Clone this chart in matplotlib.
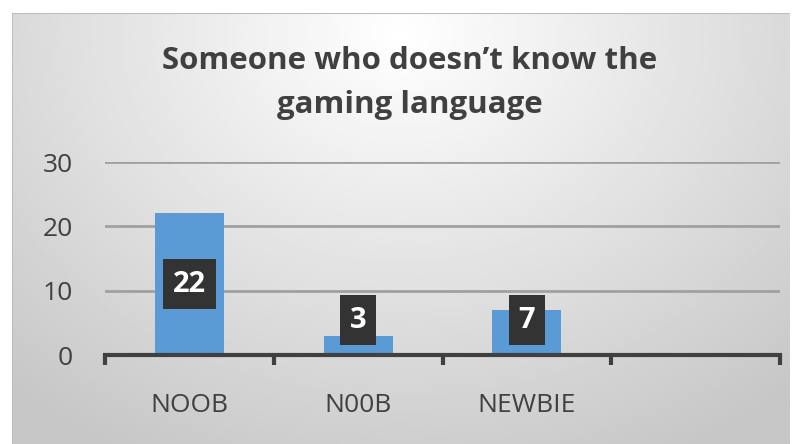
import numpy as np
import matplotlib.pyplot as plt
from matplotlib.path import Path

# -----------------------------
# chart data
# -----------------------------

categories = ["NOOB", "N00B", "NEWBIE", ""]
values = [22, 3, 7, None]
label_y = [11.0, 5.4, 5.4]      # where the data labels sit
y_ticks = [0, 10, 20, 30]
title = "Someone who doesn\u2019t know the\ngaming language"

plt.rcParams["font.family"] = ["Open Sans", "DejaVu Sans"]


def tall_box(x0, y0, width, height, mutation_size):
    # square label box, with more padding above and below than at the sides
    px = 0.33 * mutation_size
    py = 0.36 * mutation_size
    x0, x1 = x0 - px, x0 + width + px
    y0, y1 = y0 - py, y0 + height + py
    return Path([(x0, y0), (x1, y0), (x1, y1), (x0, y1), (x0, y0)], closed=True)


fig = plt.figure(figsize=(7.95, 4.44), dpi=100)

# -----------------------------
# gradient background panel
# -----------------------------

bg = fig.add_axes([12 / 795, 0, 778 / 795, 431 / 444])
gx, gy = np.meshgrid(np.linspace(0, 1, 400), np.linspace(0, 1, 220))
r = np.sqrt(((gx - 0.5) / 0.75) ** 2 + ((gy - 0.05) / 1.1) ** 2)
shade = 1.0 - 0.22 * np.clip(r, 0, 1)
bg.imshow(shade, cmap="gray", vmin=0, vmax=1, aspect="auto",
          extent=[0, 1, 1, 0])
bg.set_xlim(0, 1)
bg.set_ylim(1, 0)
bg.axis("off")
bg.plot([0, 0, 1], [1, 0, 0], color="#bdbdbd", lw=1.5)

# -----------------------------
# bar chart
# -----------------------------

ax = fig.add_axes([105 / 795, 89 / 444, 675 / 795, 193 / 444])
ax.patch.set_alpha(0)

x = np.arange(len(categories))
for i, v in enumerate(values):
    if v is not None:
        ax.bar(x[i], v, width=0.41, color="#5b9bd5", zorder=3)
        ax.text(x[i], label_y[i], str(v), ha="center", va="center",
                fontsize=21, fontweight="bold", color="white", zorder=5,
                bbox=dict(boxstyle=tall_box, fc="#333333", ec="none"))

ax.set_xlim(-0.5, len(categories) - 0.5)
ax.set_ylim(0, 30)
ax.set_yticks(y_ticks)
ax.set_yticklabels([str(t) for t in y_ticks])
ax.tick_params(axis="y", length=0, pad=23, labelsize=19, labelcolor="#404040")
ax.yaxis.grid(True, color="#a0a0a0", lw=2, zorder=1)

ax.set_xticks(x)
ax.set_xticklabels(categories)
ax.tick_params(axis="x", which="major", length=0, pad=27,
               labelsize=19, labelcolor="#404040")
ax.set_xticks(np.arange(len(categories) + 1) - 0.5, minor=True)
ax.tick_params(axis="x", which="minor", direction="out", length=7,
               width=3, color="#404040")

for side in ["top", "right", "left"]:
    ax.spines[side].set_visible(False)
ax.spines["bottom"].set_color("#404040")
ax.spines["bottom"].set_linewidth(3)
ax.spines["bottom"].set_zorder(4)

fig.text(410 / 795, 1 - 83 / 444, title, ha="center", va="center",
         fontsize=22.5, fontweight="bold", color="#404040", linespacing=1.6)

fig.savefig("out.png", dpi=100)
